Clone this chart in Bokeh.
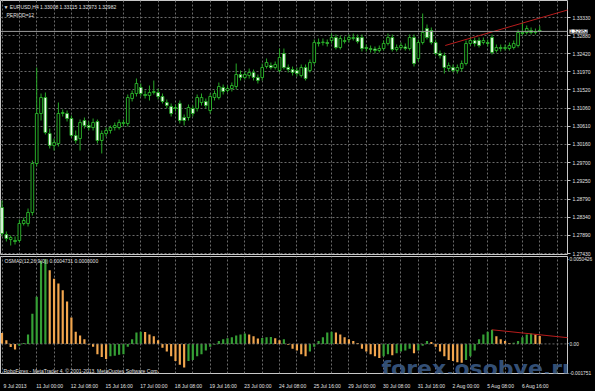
import numpy as np
from bokeh.plotting import figure
from bokeh.models import Range1d, FixedTicker, NumeralTickFormatter, Span, Label, ColumnDataSource
from bokeh.layouts import column
from bokeh.embed import file_html
from bokeh.resources import INLINE

# ---------------- data (EURUSD H4) ----------------
opens = [
    1.28580, 1.27905, 1.27780, 1.27755, 1.27755, 1.28180, 1.28180, 1.28455, 1.29680, 1.30930,
    1.31330, 1.30430, 1.30130, 1.30180, 1.30930, 1.30930, 1.30805, 1.30380, 1.30305, 1.30755,
    1.30630, 1.30580, 1.30730, 1.30255, 1.30430, 1.30505, 1.30580, 1.30580, 1.30680, 1.30680,
    1.31305, 1.31430, 1.31580, 1.31405, 1.31380, 1.31455, 1.31455, 1.31355, 1.31205, 1.31105,
    1.31055, 1.31180, 1.30830, 1.30830, 1.31055, 1.31055, 1.31205, 1.31230, 1.31005, 1.31330,
    1.31330, 1.31580, 1.31505, 1.31555, 1.31605, 1.31905, 1.31830, 1.31880, 1.31955, 1.31830,
    1.31830, 1.32105, 1.32130, 1.32080, 1.32005, 1.32430, 1.32080, 1.32030, 1.32005, 1.31880,
    1.32080, 1.32005, 1.32205, 1.32680, 1.32705, 1.32705, 1.32755, 1.32830, 1.32580, 1.32730,
    1.32780, 1.32805, 1.32830, 1.32830, 1.32580, 1.32555, 1.32542, 1.32505, 1.32555, 1.32680,
    1.32830, 1.32530, 1.32580, 1.32592, 1.32555, 1.32830, 1.32305, 1.32705, 1.33055, 1.33005,
    1.32705, 1.32430, 1.32380, 1.32055, 1.32080, 1.32005, 1.32055, 1.32180, 1.32680, 1.32755,
    1.32755, 1.32705, 1.32705, 1.32830, 1.32505, 1.32580, 1.32555, 1.32555, 1.32580, 1.32630,
    1.32955, 1.32955, 1.33005, 1.32955, 1.33008,
]
highs = [
    1.28755, 1.27980, 1.27880, 1.27855, 1.28280, 1.28330, 1.28555, 1.29755, 1.32080, 1.31430,
    1.31455, 1.30555, 1.30305, 1.31205, 1.31030, 1.31005, 1.30880, 1.30505, 1.30780, 1.30830,
    1.30730, 1.30805, 1.30780, 1.30505, 1.30580, 1.30630, 1.30705, 1.30780, 1.30780, 1.31405,
    1.31505, 1.31805, 1.31680, 1.31505, 1.31630, 1.31755, 1.31555, 1.31430, 1.31280, 1.31180,
    1.31155, 1.31255, 1.30905, 1.31155, 1.31130, 1.31405, 1.31430, 1.31305, 1.31430, 1.31505,
    1.31705, 1.31655, 1.31630, 1.31705, 1.32180, 1.32005, 1.31980, 1.32055, 1.32030, 1.31905,
    1.32180, 1.32305, 1.32205, 1.32230, 1.32555, 1.32555, 1.32155, 1.32105, 1.32080, 1.32155,
    1.32155, 1.32280, 1.32780, 1.32805, 1.32805, 1.32780, 1.32930, 1.32905, 1.32880, 1.32855,
    1.32905, 1.32930, 1.32905, 1.32905, 1.32655, 1.32630, 1.32605, 1.32630, 1.32755, 1.32930,
    1.32905, 1.32655, 1.32705, 1.32680, 1.32905, 1.32905, 1.32780, 1.33430, 1.33155, 1.33080,
    1.32780, 1.32505, 1.32455, 1.32205, 1.32155, 1.32155, 1.32255, 1.32755, 1.32830, 1.32830,
    1.32830, 1.32830, 1.32780, 1.32905, 1.32655, 1.32655, 1.32655, 1.32705, 1.32755, 1.33030,
    1.33205, 1.33130, 1.33080, 1.33055, 1.33115,
]
lows = [
    1.27855, 1.27730, 1.27630, 1.27655, 1.27705, 1.28130, 1.28105, 1.28380, 1.29605, 1.30755,
    1.30405, 1.30055, 1.30005, 1.30105, 1.30855, 1.30730, 1.30330, 1.30180, 1.30005, 1.30555,
    1.30505, 1.30505, 1.30180, 1.29930, 1.30355, 1.30430, 1.30505, 1.30530, 1.30605, 1.30605,
    1.31230, 1.31355, 1.31355, 1.31305, 1.31255, 1.31405, 1.31280, 1.31180, 1.31055, 1.30855,
    1.30980, 1.30680, 1.30630, 1.30755, 1.30855, 1.30980, 1.31130, 1.31055, 1.30930, 1.31255,
    1.31280, 1.31405, 1.31455, 1.31480, 1.31530, 1.31755, 1.31780, 1.31805, 1.31755, 1.31680,
    1.31755, 1.32055, 1.32030, 1.32030, 1.31955, 1.32030, 1.31955, 1.31880, 1.31855, 1.31830,
    1.31755, 1.31955, 1.32155, 1.32605, 1.32630, 1.32605, 1.32680, 1.32530, 1.32530, 1.32680,
    1.32705, 1.32755, 1.32680, 1.32480, 1.32480, 1.32455, 1.32430, 1.32455, 1.32505, 1.32630,
    1.32480, 1.32480, 1.32530, 1.32505, 1.32505, 1.32105, 1.32230, 1.32655, 1.32780, 1.32655,
    1.32380, 1.32305, 1.31930, 1.31980, 1.31955, 1.31930, 1.31980, 1.32130, 1.32630, 1.32605,
    1.32580, 1.32655, 1.32605, 1.32405, 1.32455, 1.32480, 1.32505, 1.32505, 1.32530, 1.32580,
    1.32880, 1.32905, 1.32905, 1.32905, 1.32973,
]
closes = [
    1.27930, 1.27805, 1.27830, 1.27730, 1.28180, 1.28255, 1.28455, 1.29680, 1.30930, 1.31330,
    1.30455, 1.30130, 1.30205, 1.30930, 1.30955, 1.30805, 1.30380, 1.30255, 1.30705, 1.30630,
    1.30580, 1.30705, 1.30255, 1.30430, 1.30505, 1.30580, 1.30630, 1.30705, 1.30705, 1.31330,
    1.31430, 1.31680, 1.31430, 1.31380, 1.31455, 1.31480, 1.31355, 1.31230, 1.31130, 1.30930,
    1.31080, 1.30755, 1.30755, 1.31080, 1.30930, 1.31330, 1.31330, 1.31130, 1.31355, 1.31430,
    1.31605, 1.31480, 1.31555, 1.31630, 1.31905, 1.31830, 1.31905, 1.31955, 1.31830, 1.31755,
    1.32080, 1.32205, 1.32080, 1.32155, 1.32330, 1.32080, 1.32030, 1.31955, 1.31930, 1.32080,
    1.31805, 1.32205, 1.32705, 1.32705, 1.32717, 1.32680, 1.32830, 1.32580, 1.32805, 1.32755,
    1.32830, 1.32830, 1.32730, 1.32555, 1.32555, 1.32530, 1.32505, 1.32555, 1.32680, 1.32830,
    1.32530, 1.32580, 1.32630, 1.32555, 1.32830, 1.32180, 1.32705, 1.32955, 1.32830, 1.32705,
    1.32430, 1.32380, 1.32080, 1.32130, 1.32005, 1.32080, 1.32180, 1.32680, 1.32755, 1.32680,
    1.32630, 1.32755, 1.32680, 1.32455, 1.32580, 1.32555, 1.32580, 1.32630, 1.32680, 1.32955,
    1.32930, 1.33055, 1.32955, 1.32980, 1.32982,
]
osma = [
    0.000656, 0.000224, -0.000185, -0.000337, -0.000112, 0.000056, 0.000561, 0.001795, 0.002805, 0.004937,
    0.005040, 0.004376, 0.003871, 0.003590, 0.003198, 0.002525, 0.001571, 0.000729, 0.000505, 0.000281,
    -0.000056, -0.000168, -0.000617, -0.000785, -0.000898, -0.000729, -0.000700, -0.000650, -0.000617, -0.000168,
    0.000281, 0.000673, 0.000729, 0.000710, 0.000561, 0.000449, 0.000224, -0.000224, -0.000449, -0.000729,
    -0.001010, -0.001234, -0.001403, -0.001010, -0.000954, -0.000729, -0.000617, -0.000393, -0.000168, -0.000056,
    0.000168, 0.000281, 0.000337, 0.000393, 0.000505, 0.000561, 0.000617, 0.000561, 0.000449, 0.000320,
    0.000345, 0.000393, 0.000410, 0.000337, 0.000224, 0.000281, -0.000056, -0.000281, -0.000393, -0.000617,
    -0.000729, -0.000449, -0.000168, 0.000168, 0.000393, 0.000673, 0.000729, 0.000673, 0.000561, 0.000393,
    0.000281, 0.000168, 0.000056, -0.000281, -0.000449, -0.000617, -0.000729, -0.000842, -0.000729, -0.000617,
    -0.000673, -0.000561, -0.000449, -0.000393, -0.000281, -0.000561, -0.000393, -0.000112, 0.000168, 0.000112,
    -0.000168, -0.000449, -0.000729, -0.000954, -0.001010, -0.001090, -0.001122, -0.000954, -0.000729, -0.000393,
    0.000281, 0.000561, 0.000729, 0.000842, 0.000449, 0.000281, 0.000168, 0.000056, 0.000070, 0.000168,
    0.000393, 0.000561, 0.000617, 0.000560, 0.0004731,
]
price_ticks = [1.27430, 1.27890, 1.28340, 1.28790, 1.29250, 1.29700, 1.30160,
               1.30610, 1.31060, 1.31520, 1.31970, 1.32420, 1.32880, 1.33330]
osma_ticks = [-0.001751, 0.0, 0.0050426]
osma_tick_labels = ["-0.001751", "0.00", "0.0050426"]
time_bars = [0, 8, 16, 24, 32, 40, 48, 56, 64, 72, 80, 88, 96, 104, 112, 120]
time_labels = ["9 Jul 2013", "11 Jul 00:00", "12 Jul 08:00", "15 Jul 16:00", "17 Jul 00:00",
               "18 Jul 08:00", "19 Jul 16:00", "23 Jul 00:00", "24 Jul 08:00", "25 Jul 16:00",
               "29 Jul 00:00", "30 Jul 08:00", "31 Jul 16:00", "2 Aug 00:00", "5 Aug 08:00",
               "6 Aug 16:00"]
trend_price_x = [102.2, 130.8]
trend_price_y = [1.32630, 1.33530]
trend_osma_x = [113.0, 130.8]
trend_osma_y = [0.00084, 0.00036]

# ---------------- styling ----------------
BG = "black"
WICK = "#27a827"
BEAR_FILL = "#f2fff2"
UP = "#35a035"
DOWN = "#f2a64e"
GRID = "#6a6a6a"
TXT = "#e2e2e2"
FONT = "Liberation Sans"
RED = "#b81c1c"
TOP_PAD = 12   # hidden strip above the price frame that hosts the unclipped price marker

n = len(closes)
idx = np.arange(n)
o = np.array(opens); c = np.array(closes)
bull = c >= o

xr = Range1d(-0.35, 130.4)
grid_ticker = FixedTicker(ticks=list(range(0, 132, 4)))

def base(fig):
    fig.background_fill_color = BG
    fig.border_fill_color = BG
    fig.outline_line_color = "#c8c8c8"
    fig.outline_line_width = 1
    fig.xgrid.ticker = grid_ticker
    fig.xgrid.grid_line_color = GRID
    fig.xgrid.grid_line_dash = "2 2"
    ax = fig.yaxis[0]
    ax.axis_line_color = None
    ax.major_tick_line_color = "#c8c8c8"
    ax.major_tick_in = 0
    ax.minor_tick_line_color = None
    ax.major_label_text_color = TXT
    ax.major_label_text_font = FONT

# ---------------- price panel ----------------
p1 = figure(width=595, height=256 + TOP_PAD, x_range=xr, y_range=Range1d(1.27405, 1.33755),
            x_axis_location=None, y_axis_location="right", toolbar_location=None, tools="",
            output_backend="svg", min_border_left=0, min_border_right=25,
            min_border_top=TOP_PAD, min_border_bottom=2)
p1.margin = (-TOP_PAD, 0, 0, 0)
base(p1)
p1.yaxis.ticker = FixedTicker(ticks=price_ticks)
p1.yaxis.formatter = NumeralTickFormatter(format="0.00000")
p1.yaxis.major_label_text_font_size = "5px"
p1.yaxis.major_tick_out = 3
p1.yaxis.major_label_standoff = 2
p1.ygrid.grid_line_color = GRID
p1.ygrid.grid_line_dash = "2 2"

src = ColumnDataSource(dict(
    x=idx, h=highs, l=lows,
    top=np.maximum(o, c), bot=np.minimum(o, c),
    fill=["black" if b else BEAR_FILL for b in bull],
))
p1.add_layout(Span(location=closes[-1], dimension="width", line_color="#9c9c9c", line_width=1))
p1.segment(x0="x", y0="l", x1="x", y1="h", source=src, line_color=WICK, line_width=1)
p1.vbar(x="x", width=0.62, top="top", bottom="bot", source=src,
        fill_color="fill", line_color=WICK, line_width=1)
p1.line(trend_price_x, trend_price_y, line_color=RED, line_width=1)

p1.add_layout(Label(x=xr.start, y=1.33755, x_offset=3, y_offset=-6, text_baseline="middle",
                    text=f"\u25bc EURUSD,H4  {opens[-1]:.5f} {highs[-1]:.5f} {lows[-1]:.5f} {closes[-1]:.5f}",
                    text_color=TXT, text_font=FONT, text_font_size="5px"))
p1.add_layout(Label(x=xr.start, y=1.33755, x_offset=6, y_offset=-14, text_baseline="middle",
                    text="PERIOD=12", text_color=TXT, text_font=FONT, text_font_size="5px"))
# current-price marker: placed in a side panel so it is not clipped to the frame
p1.add_layout(Label(x=xr.end, y=closes[-1], x_offset=2, text_baseline="middle", text_align="left",
                    text=f"{closes[-1]:.5f}", text_color="black", text_font=FONT,
                    text_font_size="5px", background_fill_color="white"), "above")

# ---------------- OSMA panel ----------------
p2 = figure(width=595, height=135, x_range=xr, y_range=Range1d(-0.00176, 0.00520),
            x_axis_location="below", y_axis_location="right", toolbar_location=None, tools="",
            output_backend="svg", min_border_left=0, min_border_right=25,
            min_border_top=0, min_border_bottom=13)
base(p2)
p2.ygrid.visible = False
p2.yaxis.ticker = FixedTicker(ticks=osma_ticks)
p2.yaxis.major_label_overrides = dict(zip(osma_ticks, osma_tick_labels))
p2.yaxis.major_label_text_font_size = "4.8px"
p2.yaxis.major_tick_out = 1
p2.yaxis.major_label_standoff = 1

label_shift = 3
xa = p2.xaxis[0]
xa.ticker = FixedTicker(ticks=[b + label_shift for b in time_bars])
xa.major_label_overrides = {b + label_shift: t for b, t in zip(time_bars, time_labels)}
xa.axis_line_color = None
xa.major_tick_line_color = None
xa.minor_tick_line_color = None
xa.major_label_standoff = 3
xa.major_label_text_color = TXT
xa.major_label_text_font = FONT
xa.major_label_text_font_size = "5px"

ov = np.array(osma)
prev = np.concatenate([[ov[0]], ov[:-1]])
ocol = [UP if v > pv else DOWN for v, pv in zip(ov, prev)]
p2.add_layout(Span(location=0, dimension="width", line_color=GRID, line_dash="2 2", line_width=1))
p2.vbar(x=idx, width=0.5, top=ov, bottom=0, fill_color=ocol, line_color=None)
p2.line(trend_osma_x, trend_osma_y, line_color=RED, line_width=1)

p2.add_layout(Label(x=xr.start, y=0.00520, x_offset=4, y_offset=-4, text_baseline="middle",
                    text=f"OSMA2(12,26,9(0)) {osma[-1]:.7f} 0.0000000",
                    text_color=TXT, text_font=FONT, text_font_size="5px"))
p2.add_layout(Label(x=xr.start, y=-0.00176, x_offset=3, y_offset=3, text_baseline="middle",
                    text="RoboForex - MetaTrader 4, \u00a9 2001-2013, MetaQuotes Software Corp.",
                    text_color=TXT, text_font=FONT, text_font_size="5px"))
p2.add_layout(Label(x=87.5, y=-0.00146, text="forex.osobye.ru", text_baseline="alphabetic",
                    text_font="DejaVu Sans", text_font_style="bold", text_font_size="22px",
                    text_color="#3b5b86", text_alpha=0.9))

layout = column(p1, p2, spacing=0)
layout.styles = {"background-color": "black"}
open("out.html", "w").write(file_html(layout, INLINE))
